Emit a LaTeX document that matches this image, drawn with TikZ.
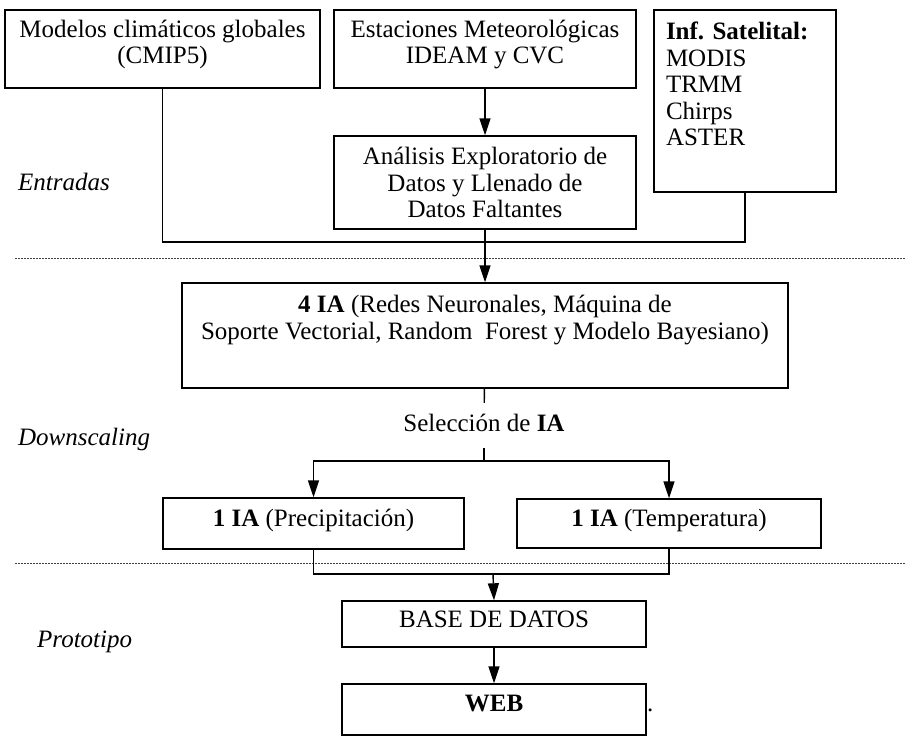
\documentclass[tikz,border=0pt]{standalone}
\usepackage{fontspec}
\setmainfont{Liberation Serif}
\usetikzlibrary{arrows.meta}
\newcommand{\padbot}[1]{\rule[-#1]{0pt}{#1}}

\begin{document}
\begin{tikzpicture}[x=1pt,y=-1pt,
	box/.style={draw, line width=1.4pt, align=center, inner sep=0pt, font=\fontsize{25}{26.5}\selectfont},
	tag/.style={font=\fontsize{25}{26.5}\selectfont\itshape, anchor=base west, inner sep=0pt},
	ln/.style={line width=1.4pt},
	arr/.style={line width=1.4pt, -{Triangle[length=17pt,width=11pt]}},
	sep/.style={line width=1pt, black!75, dash pattern=on 2pt off 1pt}]
	\useasboundingbox (0,0) rectangle (905,744);
	
	%Entradas
	\node[box, minimum width=315, minimum height=78] (mod) at (162.5,49) {Modelos climáticos globales\\(CMIP5)\padbot{14pt}};
	\node[box, minimum width=302, minimum height=78] (est) at (485,49) {Estaciones Meteorológicas\\IDEAM y CVC\padbot{14pt}};
	\node[box, minimum width=182, minimum height=182, align=left, text width=158] (sat) at (745,101) {\textbf{Inf.\ Satelital:}\\MODIS\\TRMM\\Chirps\\ASTER\padbot{34pt}};
	\node[box, minimum width=302, minimum height=93] (ana) at (485,182.5) {Análisis Exploratorio de\\Datos y Llenado de\\Datos Faltantes};
	
	%Downscaling
	\node[box, minimum width=606, minimum height=105] (ia4) at (485,335.5) {\textbf{4 IA} (Redes Neuronales, Máquina de\\Soporte Vectorial, Random~~Forest y Modelo Bayesiano)\padbot{36pt}};
	\node[font=\fontsize{25}{26.5}\selectfont, inner xsep=0pt, inner ysep=12pt, text height=16pt, text depth=5pt] (sel) at (484,425.5) {Selección de \textbf{IA}};
	\node[box, minimum width=301, minimum height=51] (pre) at (313.5,523.5) {\textbf{1 IA} (Precipitación)\padbot{12pt}};
	\node[box, minimum width=304, minimum height=49] (tem) at (669,523.5) {\textbf{1 IA} (Temperatura)\padbot{12pt}};
	
	%Prototipo
	\node[box, minimum width=304, minimum height=46] (base) at (494,624) {BASE DE DATOS\padbot{10pt}};
	\node[box, minimum width=304, minimum height=51] (web) at (494,709.5) {\textbf{WEB}\padbot{13pt}};
	\node[font=\fontsize{25}{26.5}\selectfont, anchor=base west, inner sep=0pt] (dot) at (647,711) {.};
	
	%Stage names
	\node[tag] (entradas) at (18,190) {Entradas};
	\node[tag] (downs) at (18,445) {Downscaling};
	\node[tag] (proto) at (37,647) {Prototipo};
	
	%Separators
	\foreach \y in {258,563}
	\draw[sep] (15,\y) -- (905,\y);
	
	%Connectors
	\coordinate (join) at (485,242);
	\coordinate (split) at (484,461);
	\coordinate (merge) at (493,574);
	\draw[arr] (est) -- (ana);
	\draw[ln] (mod.south) |- (join) -| (sat.south);
	\draw[arr] (ana) -- (ia4);
	\draw[ln] (ia4) -- (sel);
	\draw[ln] (sel) -- (split);
	\draw[arr] (split) -| (pre.north);
	\draw[arr] (split) -| (tem.north);
	\draw[ln] (pre.south) |- (merge) -| (tem.south);
	\draw[arr] (merge) -- (base.north);
	\draw[arr] (base) -- (web);
	
\end{tikzpicture}
\end{document}
